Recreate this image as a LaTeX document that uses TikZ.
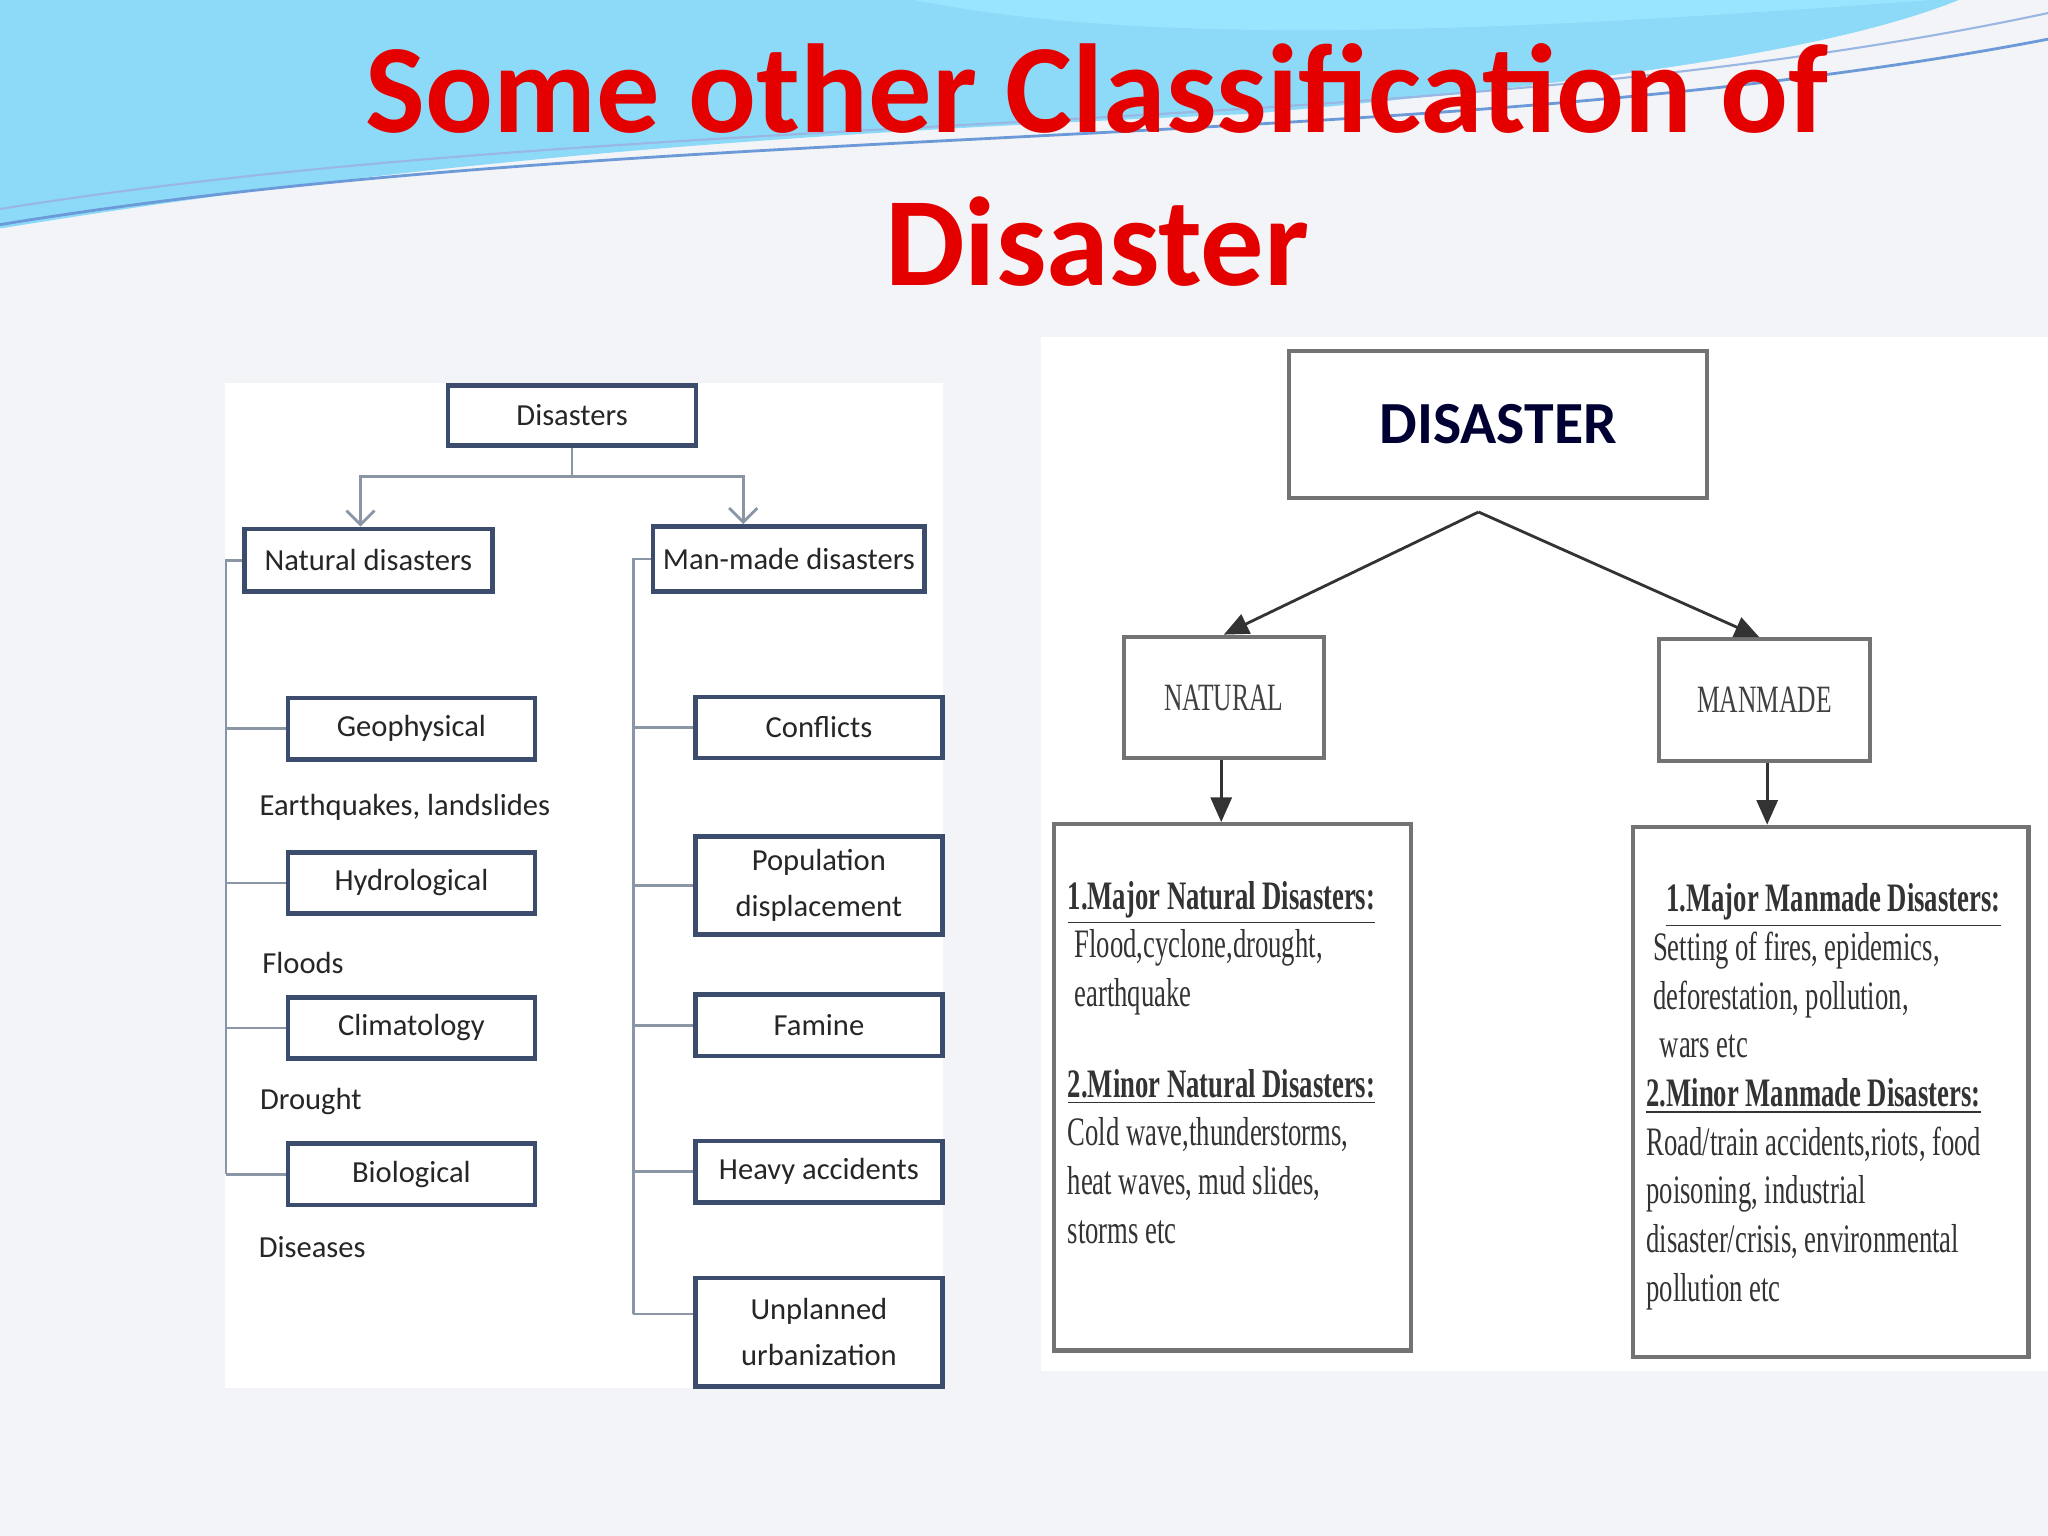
\documentclass[tikz,border=0pt]{standalone}
\usepackage{fontspec}
\setmainfont{Carlito}
\newfontfamily\cond[FakeStretch=0.66]{Liberation Serif}
\usetikzlibrary{arrows.meta}
\def\px{0.013061cm}
\definecolor{bg}{HTML}{F3F4F8}
\definecolor{bx}{HTML}{3C4C6C}
\definecolor{ln}{HTML}{8A96A6}
\tikzset{x=\px,y=-\px,
 lbox/.style={draw=bx,line width=1.3pt,fill=white,font=\fontsize{8.7}{12}\selectfont,align=center,inner sep=0pt,text=black!85},
 lline/.style={draw=ln,line width=0.8pt},
 lab/.style={font=\fontsize{8.7}{12}\selectfont,text=black!85},
 rbox/.style={draw=black!55,line width=1.2pt,fill=white,inner sep=0pt},
 rarr/.style={draw=black!80,line width=0.8pt,-{Triangle[length=7pt,width=6pt]}},
 rtext/.style={anchor=north west,align=left,inner sep=0pt,text=black!80,font=\cond\fontsize{11.5}{13.85}\selectfont}}
\begin{document}
\begin{tikzpicture}
\useasboundingbox (0,0) rectangle (1568,1176);
\fill[bg] (0,0) rectangle (1568,1176);
% top wave
\fill[cyan!45] (0,0) -- (1568,0) -- (1568,30) .. controls (1200,110) and (700,60) .. (0,175) -- cycle;
\fill[blue!25!cyan!40] (700,0) .. controls (900,40) and (1200,20) .. (1480,0) -- cycle;
\fill[bg] (0,178) .. controls (500,95) and (1100,140) .. (1568,45) -- (1568,0) -- (1500,0) .. controls (1300,80) and (800,90) .. (0,175) -- cycle;
\draw[cyan!50!blue!60,line width=0.8pt] (0,172) .. controls (500,90) and (1100,120) .. (1568,30);
\draw[cyan!50!blue!40,line width=0.6pt] (0,160) .. controls (500,80) and (1100,110) .. (1568,10);
% title
\node[text=red!90!black,font=\bfseries\fontsize{36}{44}\selectfont] (t1) at (840,68) {Some other Classification of};
\node[text=red!90!black,font=\bfseries\fontsize{36}{44}\selectfont] (t2) at (840,185) {Disaster};
% panels
\fill[white] (172,293) rectangle (722,1063);
\fill[white] (797,258) rectangle (1568,1050);
% left tree
\node[lbox,minimum width=190*\px,minimum height=46*\px] (d) at (438,318) {Disasters};
\node[lbox,minimum width=190*\px,minimum height=48*\px] (nd) at (282,429) {Natural disasters};
\node[lbox,minimum width=208*\px,minimum height=50*\px] (md) at (604,428) {Man-made disasters};
\foreach \n/\y/\t in {g/558/Geophysical,h/676/Hydrological,c/787/Climatology,b/899/Biological}
  \node[lbox,minimum width=189*\px,minimum height=47*\px] (\n) at (315,\y) {\t};
\node[lbox,minimum width=189*\px,minimum height=47*\px] (cf) at (627,557) {Conflicts};
\node[lbox,minimum width=189*\px,minimum height=75*\px] (pd) at (627,678) {Population\\[1pt]displacement};
\node[lbox,minimum width=189*\px,minimum height=47*\px] (fm) at (627,785) {Famine};
\node[lbox,minimum width=189*\px,minimum height=47*\px] (ha) at (627,897) {Heavy accidents};
\node[lbox,minimum width=189*\px,minimum height=83*\px] (uu) at (627,1020) {Unplanned\\[1pt]urbanization};
\node[lab] (l1) at (310,618) {Earthquakes, landslides};
\node[lab] (l2) at (232,737) {Floods};
\node[lab] (l3) at (238,843) {Drought};
\node[lab] (l4) at (239,955) {Diseases};
\coordinate (j) at (438,365);
\draw[lline] (d.south) -- (j);
\draw[lline,-{Straight Barb[length=4pt]}] (j) -| (nd.north -| 276,0);
\draw[lline,-{Straight Barb[length=4pt]}] (j) -| (md.north -| 569,0);
\draw[lline] (nd.west) -- (173,429) -- (173,899);
\foreach \n in {g,h,c,b} \draw[lline] (173,0 |- \n.west) -- (\n.west);
\draw[lline] (md.west) -- (485,428) -- (485,1006);
\foreach \n in {cf,pd,fm,ha} \draw[lline] (485,0 |- \n.west) -- (\n.west);
\draw[lline] (485,1006) -- (uu.west |- 0,1006);
% right tree
\node[rbox,minimum width=320*\px,minimum height=113*\px,font=\bfseries\fontsize{17}{20}\selectfont,text=blue!20!black] (D) at (1147,325) {DISASTER};
\node[rbox,minimum width=153*\px,minimum height=93*\px,font=\cond\fontsize{11}{14}\selectfont,text=black!75] (N) at (937,534) {NATURAL};
\node[rbox,minimum width=162*\px,minimum height=93*\px,font=\cond\fontsize{11}{14}\selectfont,text=black!75] (M) at (1351,536) {MANMADE};
\node[rbox,minimum width=273*\px,minimum height=403*\px] (NB) at (943.5,832.5) {};
\node[rbox,minimum width=303*\px,minimum height=406*\px] (MB) at (1401.5,836) {};
\coordinate (top) at (1132,392);
\draw[rarr] (top) -- (N.north);
\draw[rarr] (top) -- (M.north -| 1347,0);
\draw[rarr] (N.south -| 935,0) -- (NB.north -| 935,0);
\draw[rarr] (M.south -| 1353,0) -- (MB.north -| 1353,0);
\node[rtext] (nt) at (817,674) {\underline{\textbf{1.Major Natural Disasters:}}\\
\ Flood,cyclone,drought,\\
\ earthquake\\[12pt]
\underline{\textbf{2.Minor Natural Disasters:}}\\
Cold wave,thunderstorms,\\
heat waves, mud slides,\\
storms etc};
\node[rtext] (mt) at (1260,676) {\ \ \ \underline{\textbf{1.Major Manmade Disasters:}}\\
\ Setting of fires, epidemics,\\
\ deforestation, pollution,\\
\ \ wars etc\\
\underline{\textbf{2.Minor Manmade Disasters:}}\\
Road/train accidents,riots, food\\
poisoning, industrial\\
disaster/crisis, environmental\\
pollution etc};
\end{tikzpicture}
\end{document}
